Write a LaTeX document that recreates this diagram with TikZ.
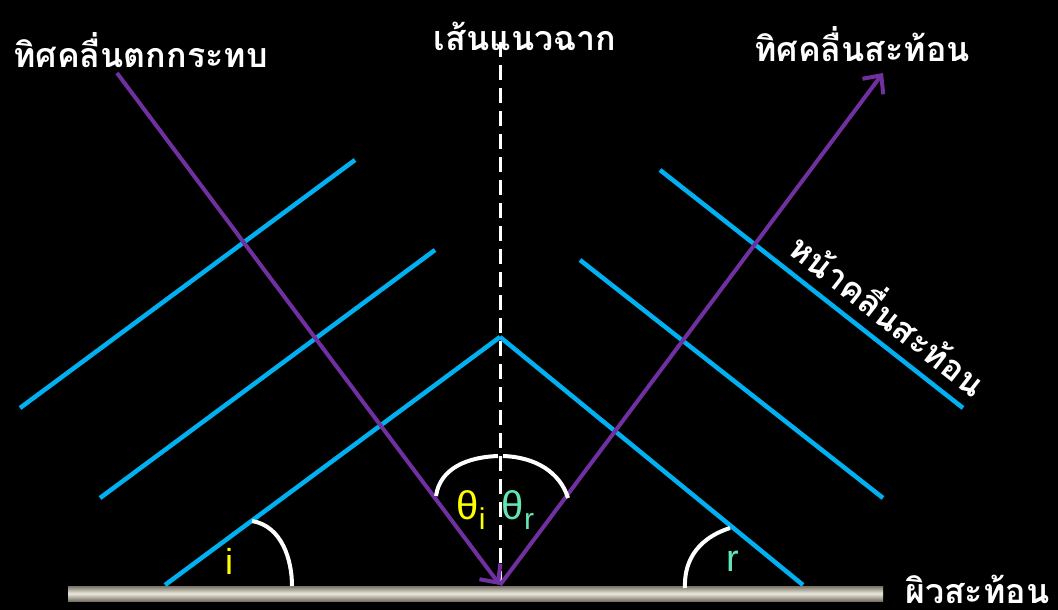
\documentclass[tikz,border=0pt]{standalone}
\usepackage{fontspec}
\setmainfont{Liberation Sans}
\newfontfamily\thaifont[Script=Thai]{Loma}
\usetikzlibrary{arrows.meta}
\definecolor{wavepurple}{RGB}{112,48,160}
\definecolor{waveblue}{RGB}{0,176,240}
\definecolor{angteal}{RGB}{100,230,180}
\definecolor{angyellow}{RGB}{255,255,0}
\tikzset{
  front/.style={waveblue,line width=4.5pt},
  ray/.style={wavepurple,line width=4pt,-{Straight Barb[length=14pt,width=26pt,line width=4pt]}},
  angarc/.style={white,line width=4pt},
  thlabel/.style={white,font=\thaifont\bfseries\fontsize{34}{36}\selectfont,inner sep=0pt},
  anglab/.style={font=\fontsize{40}{42}\selectfont,inner sep=0pt},
}
\newcommand{\subl}[1]{\raisebox{-0.5ex}{\fontsize{30}{32}\selectfont #1}}
\begin{document}
\begin{tikzpicture}[x=1pt,y=-1pt]
\fill[black] (0,0) rectangle (1058,610);
\useasboundingbox (0,0) rectangle (1058,610);
% surface
\shade[top color={rgb,255:red,120;green,115;blue,100},bottom color={rgb,255:red,120;green,115;blue,100},middle color={rgb,255:red,235;green,232;blue,222}] (68,586) rectangle (883,601);
% coordinates
\coordinate (O) at (500,585);
\coordinate (inS) at (117,73);
\coordinate (reE) at (883,73);
\coordinate (nTop) at (500,42);
% normal
\draw[white,line width=3pt,dash pattern=on 15pt off 8pt] (nTop) -- (O);
% wavefronts incident
\coordinate (a1) at (20,408); \coordinate (a2) at (355,160);
\coordinate (b1) at (100,498); \coordinate (b2) at (435,250);
\coordinate (c1) at (165,585); \coordinate (c2) at (500,337);
\draw[front] (a1) -- (a2);
\draw[front] (b1) -- (b2);
\draw[front] (c1) -- (c2);
% wavefronts reflected
\coordinate (d2) at (803,585);
\coordinate (e1) at (580,260); \coordinate (e2) at (883,498);
\coordinate (f1) at (660,170); \coordinate (f2) at (963,408);
\draw[front] (c2) -- (d2);
\draw[front] (e1) -- (e2);
\draw[front] (f1) -- (f2);
% rays
\draw[ray] (inS) -- (O);
\draw[ray] (O) -- (reE);
% arcs
\draw[angarc] (252,521) .. controls (282,526) and (292,560) .. (292,586);
\draw[angarc] (730,528) .. controls (693,540) and (684,566) .. (685,588);
\draw[angarc] (436,496) .. controls (440,468) and (468,457) .. (498,456);
\draw[angarc] (503,456) .. controls (535,457) and (560,472) .. (568,498);
% angle labels
\node[angyellow,anglab] (ti) at (471,510) {θ\subl{i}};
\node[angteal,anglab] (tr) at (518,510) {θ\subl{r}};
\node[angyellow,font=\fontsize{36}{38}\selectfont,inner sep=0pt] (li) at (229,561) {i};
\node[angteal,font=\fontsize{38}{40}\selectfont,inner sep=0pt] (lr) at (733,561) {r};
% Thai labels
\node[thlabel,anchor=west] (tinc) at (13,50) {ทิศคลื่นตกกระทบ};
\node[thlabel] (tnorm) at (525,36) {เส้นแนวฉาก};
\node[thlabel] (tref) at (862,44) {ทิศคลื่นสะท้อน};
\node[thlabel,rotate=-38] (tfront) at (890,312) {หน้าคลื่นสะท้อน};
\node[thlabel,anchor=west] (tsurf) at (905,589) {ผิวสะท้อน};
\end{tikzpicture}
\end{document}
